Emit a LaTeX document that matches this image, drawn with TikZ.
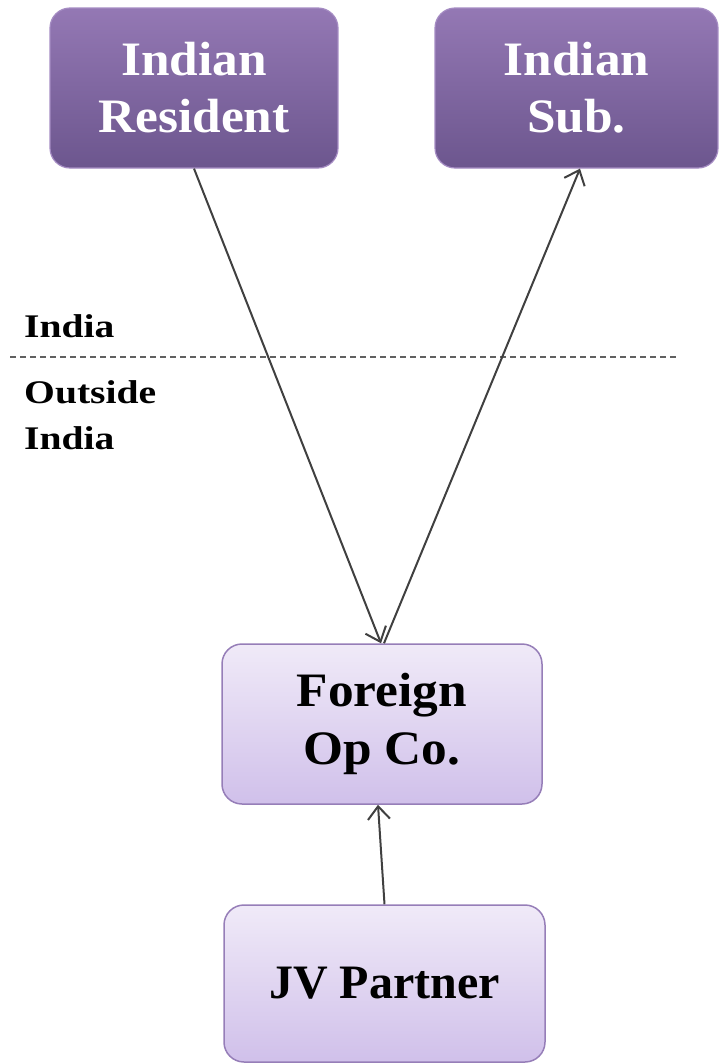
\documentclass[tikz,border=0pt]{standalone}
\usepackage{fontspec}
\setmainfont{Liberation Serif}
\newfontfamily\boxfont[FakeStretch=1.07]{Liberation Serif}
\newfontfamily\labelfont[FakeStretch=1.2]{Liberation Serif}
\usetikzlibrary{arrows.meta}

\definecolor{darkTop}{RGB}{148,120,180}
\definecolor{darkBot}{RGB}{108,86,142}
\definecolor{darkEdge}{RGB}{165,140,195}
\definecolor{lightTop}{RGB}{240,234,248}
\definecolor{lightBot}{RGB}{208,192,234}
\definecolor{lightEdge}{RGB}{150,126,184}
\definecolor{arrowGray}{RGB}{64,64,64}
\definecolor{lineGray}{RGB}{96,96,96}

\tikzset{
  darkbox/.style={draw=darkEdge, line width=1.2pt, rounded corners=20pt,
    top color=darkTop, bottom color=darkBot, text=white, align=center,
    font=\boxfont\fontsize{48}{57}\selectfont\bfseries, inner sep=0pt},
  lightbox/.style={draw=lightEdge, line width=1.5pt, rounded corners=20pt,
    top color=lightTop, bottom color=lightBot, text=black, align=center,
    font=\boxfont\fontsize{48}{58}\selectfont\bfseries, inner sep=0pt},
  flow/.style={draw=arrowGray, line width=2pt,
    -{Straight Barb[length=13pt,width=22pt,line width=2pt]}},
  regionlabel/.style={font=\labelfont\fontsize{33}{45}\selectfont\bfseries, inner sep=0pt, align=left},
  border/.style={draw=lineGray, line width=1.4pt, dash pattern=on 6pt off 4pt}
}

\begin{document}
\begin{tikzpicture}[x=1pt,y=-1pt]
  \useasboundingbox (0,0) rectangle (718,1063);

  % boxes in India
  \node[darkbox, minimum width=288pt, minimum height=160pt] (res) at (194,88) {Indian\\Resident};
  \node[darkbox, minimum width=283pt, minimum height=160pt] (sub) at (576.5,88) {Indian\\Sub.};

  % boxes outside India
  \node[lightbox, minimum width=320pt, minimum height=160pt] (opco) at (382,724) {Foreign\\Op Co.};
  \node[lightbox, minimum width=321pt, minimum height=157pt,
        font=\rmfamily\fontsize{48}{58}\selectfont\bfseries] (jv) at (384.5,983.5) {JV Partner};

  % border between the two regions
  \coordinate (bl) at (10,357);
  \coordinate (br) at (676,357);
  \draw[border] (bl) -- (br);
  \node[regionlabel, anchor=base west] (lin) at (24,337) {India};
  \node[regionlabel, anchor=base west] (lout) at (24,403) {Outside};
  \node[regionlabel, anchor=base west] (lout2) at (24,449) {India};

  % investment flows
  \draw[flow] (res.south) -- ([xshift=-1pt]opco.north);
  \draw[flow] ([xshift=2pt]opco.north) -- ([xshift=3.5pt]sub.south);
  \draw[flow] (jv.north) -- ([xshift=-4pt]opco.south);
\end{tikzpicture}
\end{document}
